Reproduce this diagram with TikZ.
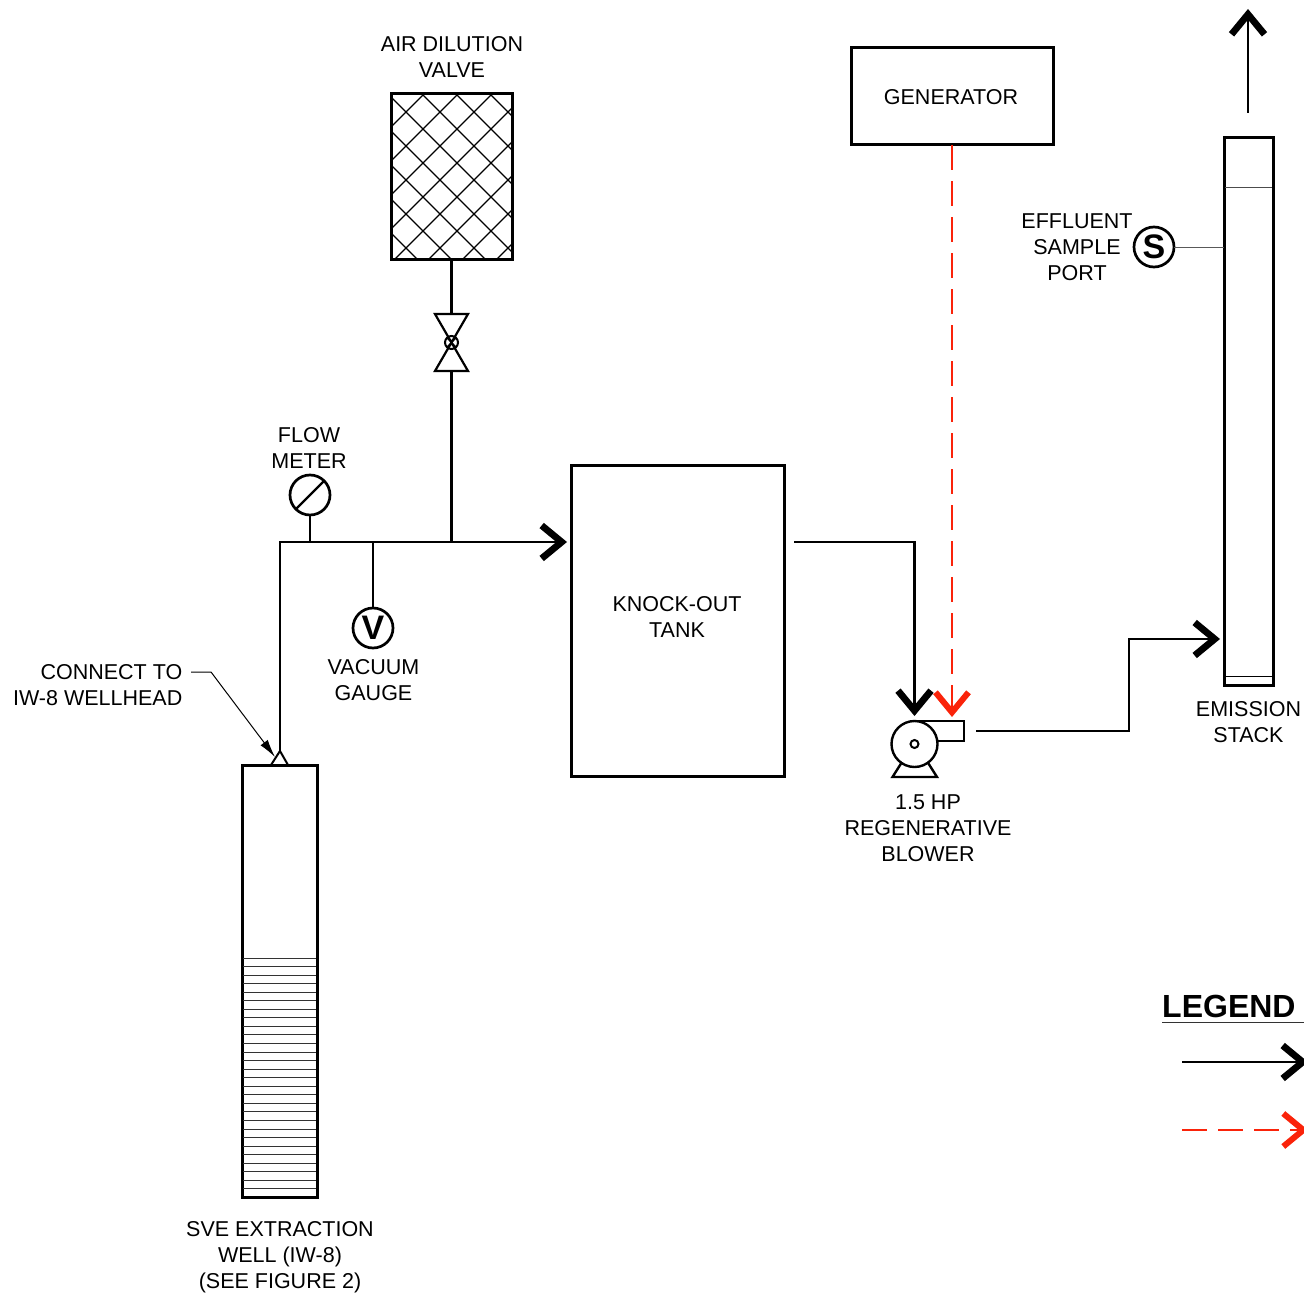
\documentclass[tikz,border=0pt]{standalone}
\usepackage{fontspec}
\setmainfont{Liberation Sans}
\usetikzlibrary{arrows.meta}
\definecolor{gasred}{RGB}{250,35,10}

\tikzset{
    pipe/.style={line width=2.3pt,black},
    thinpipe/.style={line width=1pt,black!65},
    flow/.style={pipe,-{Straight Barb[length=20pt,width=33pt,line width=6.8pt]}},
    gasflow/.style={line width=1.8pt,gasred,dash pattern=on 25pt off 11pt,
        -{Straight Barb[length=20pt,width=33pt,line width=6pt]}},
    vessel/.style={draw,line width=3pt,fill=none,inner sep=0pt,outer sep=0pt},
    gaugering/.style={draw,circle,line width=2.7pt,minimum size=40pt,inner sep=0pt,outer sep=0pt,
        font=\fontsize{34}{34}\selectfont\bfseries},
    caption/.style={align=center,inner sep=0pt,font=\fontsize{21.5}{26}\selectfont},
}

\begin{document}
\begin{tikzpicture}[x=1pt,y=-1pt]
    \path[use as bounding box,clip] (0,0) rectangle (1304,1295);

    % Air dilution valve
    \begin{scope}
        \clip (391,94) rectangle (512,259);
        \foreach \k in {-6,...,8} {
            \draw[line width=1.2pt] (328+34*\k,0) -- (628+34*\k,300);
            \draw[line width=1.2pt] (518+34*\k,0) -- (218+34*\k,300);
        }
    \end{scope}
    \node[vessel,minimum width=121pt,minimum height=165pt] (airbox) at (451.5,176.5) {};
    \node[caption] (airlabel) at (452,57) {AIR DILUTION\\VALVE};
    \coordinate (valvetop) at (451.5,314);
    \coordinate (valvebot) at (451.5,371);
    \node[draw,circle,line width=2pt,minimum size=13pt,inner sep=0pt,outer sep=0pt] (valvedisc) at (451.5,342.5) {};
    \draw[line width=2.2pt,line join=miter] (435,314) -- (468,314) -- (435,371) -- (468,371) -- cycle;
    \draw[line width=1.3pt] (valvedisc.north west) -- (valvedisc.south east);
    \draw[line width=1.3pt] (valvedisc.north east) -- (valvedisc.south west);
    \draw[pipe] (airbox.south) -- (valvetop);

    % Main line
    \coordinate (wellcorner) at (280,542);
    \coordinate (flowtee) at (310,542);
    \coordinate (vactee) at (373,542);
    \coordinate (airtee) at (451.5,542);
    \coordinate (tankin) at (567,542);
    \coordinate (wellcap) at (280,751);
    \draw[pipe] (valvebot) -- (airtee);
    \draw[flow] (wellcap) -- (wellcorner) -- (tankin);

    % Gauges
    \node[gaugering] (flowmeter) at (310,495) {};
    \draw[line width=2.2pt] (flowmeter.225) -- (flowmeter.45);
    \node[caption] (flowlabel) at (309,448) {FLOW\\METER};
    \draw[pipe] (flowmeter.south) -- (flowtee);
    \node[gaugering] (vacgauge) at (373,628) {V};
    \node[caption] (vaclabel) at (373.5,680.5) {VACUUM\\GAUGE};
    \draw[pipe] (vactee) -- (vacgauge.north);

    % Extraction well
    \node[vessel,minimum width=75pt,minimum height=432pt] (well) at (279.5,981) {};
    \foreach \n in {0,...,27} {
        \draw[line width=1pt,black!80] (243,958+8.55*\n) -- (316,958+8.55*\n);
    }
    \draw[line width=2pt] (271,765) -- (wellcap) -- (288,765);
    \node[caption] (welllabel) at (280,1257) {SVE EXTRACTION\\WELL (IW-8)\\(SEE FIGURE 2)};
    \node[caption,align=right,anchor=east] (connectlabel) at (182.5,685) {CONNECT TO\\IW-8 WELLHEAD};
    \coordinate (leaderstart) at (191,672);
    \coordinate (leaderbend) at (211,672);
    \coordinate (leadertip) at (275,757);
    \draw[line width=1pt,-{Latex[length=18pt,width=9pt]}] (leaderstart) -- (leaderbend) -- (leadertip);

    % Knock-out tank
    \node[vessel,minimum width=213pt,minimum height=311pt] (kotank) at (677.5,620.5) {};
    \node[caption] (kolabel) at (677,617) {KNOCK-OUT\\TANK};

    % Blower
    \node[draw,circle,line width=2.4pt,minimum size=46pt,inner sep=0pt,outer sep=0pt] (blower) at (914.5,744) {};
    \node[draw,circle,line width=2pt,minimum size=8pt,inner sep=0pt,outer sep=0pt] (blowerhub) at (914.5,744) {};
    \draw[line width=2.4pt] (blower.north) -- (964,721) -- (964,741) -- (937,741);
    \draw[line width=2.4pt] (902,762) -- (892.5,777) -- (937,777) -- (927.5,762);
    \node[caption] (blowerlabel) at (928,828) {1.5 HP\\REGENERATIVE\\BLOWER};
    \coordinate (tankout) at (794,542);
    \coordinate (blowerinbend) at (914.5,542);
    \coordinate (blowerin) at (914.5,716);
    \draw[flow] (tankout) -- (blowerinbend) -- (blowerin);

    % Generator
    \node[vessel,minimum width=202pt,minimum height=97pt] (generator) at (952,96.5) {};
    \node[caption] (genlabel) at (951,97) {GENERATOR};
    \coordinate (gasstart) at (952,145);
    \coordinate (gasend) at (952,717);
    \draw[gasflow] (gasstart) -- (gasend);

    % Emission stack
    \node[vessel,minimum width=49pt,minimum height=547pt] (stack) at (1248.5,411.5) {};
    \draw[line width=1pt,black!70] (1225,187) -- (1272,187);
    \draw[line width=1pt,black] (1225,676) -- (1272,676);
    \node[caption] (stacklabel) at (1248.5,722) {EMISSION\\STACK};
    \coordinate (blowerout) at (976,731);
    \coordinate (riserbot) at (1129,731);
    \coordinate (risertop) at (1129,639);
    \coordinate (stackin) at (1220,639);
    \draw[flow] (blowerout) -- (riserbot) -- (risertop) -- (stackin);
    \coordinate (ventstart) at (1248,113);
    \coordinate (venttip) at (1248,9);
    \draw[flow,line width=1.8pt] (ventstart) -- (venttip);

    % Sample port
    \node[gaugering] (sampleport) at (1154,247) {S};
    \node[caption] (samplelabel) at (1077,247) {EFFLUENT\\SAMPLE\\PORT};
    \draw[thinpipe] (sampleport.east) -- (stack.west |- sampleport.east);

    % Legend
    \node[inner sep=0pt,anchor=west,font=\fontsize{32}{32}\selectfont\bfseries] (legendtitle) at (1162,1006) {LEGEND};
    \coordinate (legendrulel) at (1162,1022.5);
    \coordinate (legendruler) at (1304,1022.5);
    \draw[line width=1.7pt,black!80] (legendrulel) -- (legendruler);
    \coordinate (legendpipel) at (1182,1062);
    \coordinate (legendpiper) at (1308,1062);
    \draw[flow] (legendpipel) -- (legendpiper);
    \coordinate (legendgasl) at (1182,1130);
    \coordinate (legendgasr) at (1308,1130);
    \draw[gasflow] (legendgasl) -- (legendgasr);
\end{tikzpicture}
\end{document}
